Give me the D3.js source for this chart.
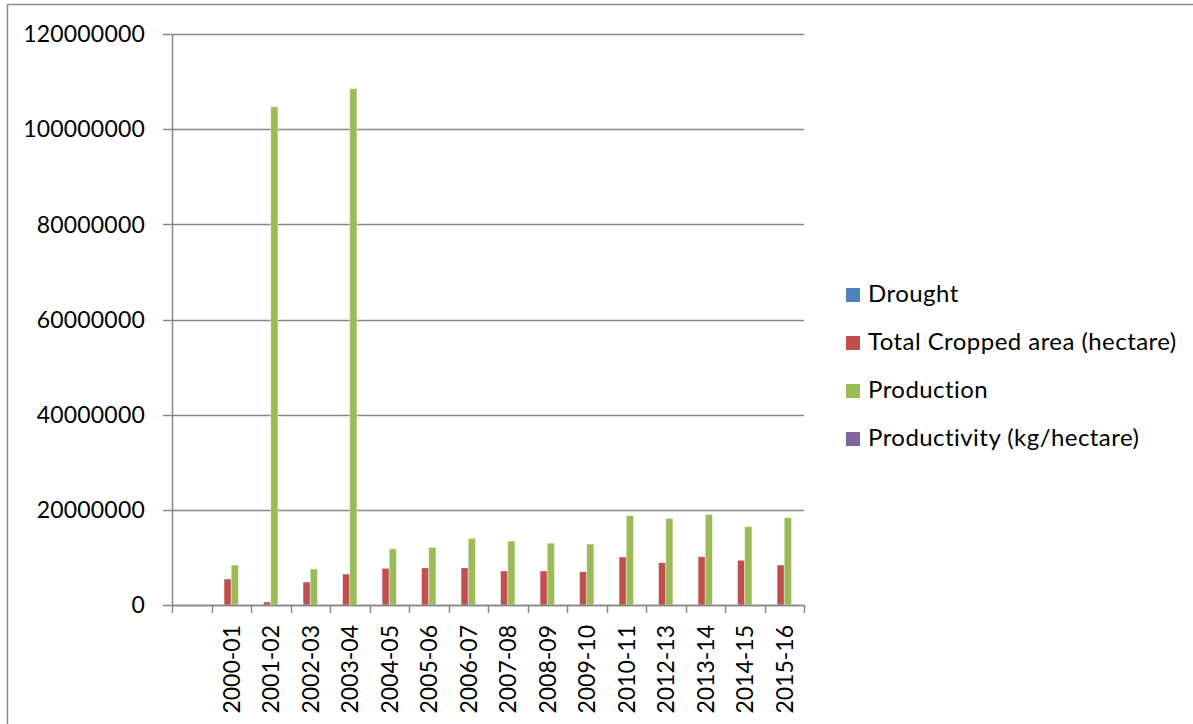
<!DOCTYPE html>
<html>
<head>
<meta charset="utf-8">
<script src="https://cdn.jsdelivr.net/npm/d3@7"></script>
<style>
  body { margin: 0; background: #fff; }
  text { font-family: Lato, 'Liberation Sans', sans-serif; fill: #000; }
</style>
</head>
<body>
<div id="app"></div>
<script>
'use strict'

// first slot is an empty row in the source sheet
const years = ['', '2000-01', '2001-02', '2002-03', '2003-04', '2004-05', '2005-06', '2006-07',
	'2007-08', '2008-09', '2009-10', '2010-11', '2012-13', '2013-14', '2014-15', '2015-16']
const seriesNames = ['Drought', 'Total Cropped area (hectare)', 'Production', 'Productivity (kg/hectare)']
const drought = [0, 0, 0, 0, 0, 0, 0, 0, 0, 0, 0, 0, 0, 0, 0, 0]
const croppedArea = [0, 5460000, 630000, 4830000, 6500000, 7700000, 7800000, 7800000,
	7150000, 7150000, 7000000, 10100000, 8900000, 10150000, 9400000, 8400000]
const production = [0, 8400000, 104700000, 7570000, 108500000, 11800000, 12100000, 14000000,
	13450000, 13000000, 12800000, 18800000, 18200000, 19050000, 16500000, 18350000]
const productivity = [0, 0, 0, 0, 0, 0, 0, 0, 0, 0, 0, 0, 0, 0, 0, 0]
const yTicks = [0, 20000000, 40000000, 60000000, 80000000, 100000000, 120000000]
const colors = ['#4F81BD', '#C0504D', '#9BBB59', '#8064A2']

const seriesValues = [drought, croppedArea, production, productivity]

const W = 1193, H = 724
const plot = { left: 172, right: 804, top: 34, bottom: 605 }

const svg = d3.select('#app').append('svg')
	.attr('width', W)
	.attr('height', H)

// outer chart frame
svg.append('rect')
	.attr('x', 7.5).attr('y', 4.5)
	.attr('width', W + 20).attr('height', H + 20)
	.attr('fill', 'none')
	.attr('stroke', '#8c8c8c')
	.attr('stroke-width', 1.5)

const xScale = d3.scaleBand()
	.domain(years)
	.range([plot.left, plot.right])
	.paddingInner(0)
	.paddingOuter(0)

const inner = d3.scaleBand()
	.domain(seriesNames)
	.range([0, xScale.bandwidth()])
	.paddingInner(0)
	.paddingOuter(0.75)

const yScale = d3.scaleLinear()
	.domain([0, 120000000])
	.range([plot.bottom, plot.top])

// gridlines + y ticks
svg.append('g')
	.selectAll('line')
	.data(yTicks)
	.enter().append('line')
	.attr('x1', plot.left - 9)
	.attr('x2', plot.right)
	.attr('y1', d => Math.round(yScale(d)) + 0.5)
	.attr('y2', d => Math.round(yScale(d)) + 0.5)
	.attr('stroke', '#868686')
	.attr('stroke-width', 1.5)

svg.append('g')
	.selectAll('text')
	.data(yTicks)
	.enter().append('text')
	.attr('x', 145)
	.attr('y', d => yScale(d))
	.attr('dy', '0.36em')
	.attr('text-anchor', 'end')
	.style('font-size', '23px')
	.style('letter-spacing', '0.2px')
	.text(d => d3.format('d')(d))

// y axis line
svg.append('line')
	.attr('x1', plot.left + 0.5).attr('x2', plot.left + 0.5)
	.attr('y1', plot.top).attr('y2', plot.bottom)
	.attr('stroke', '#868686')
	.attr('stroke-width', 1.5)

// bars
const groups = svg.append('g')
	.selectAll('g')
	.data(seriesNames)
	.enter().append('g')
	.attr('fill', (d, i) => colors[i])

groups.selectAll('rect')
	.data((s, i) => years.map((y, j) => ({ year: y, series: s, value: seriesValues[i][j] })))
	.enter().append('rect')
	.filter(d => d.value > 0)
	.attr('x', d => xScale(d.year) + inner(d.series))
	.attr('width', inner.bandwidth())
	.attr('y', d => yScale(d.value))
	.attr('height', d => plot.bottom - yScale(d.value))
	.attr('stroke', '#ffffff')
	.attr('stroke-opacity', 0.5)
	.attr('stroke-width', 0.8)

// x axis line and boundary ticks
svg.append('line')
	.attr('x1', plot.left).attr('x2', plot.right)
	.attr('y1', plot.bottom + 0.5).attr('y2', plot.bottom + 0.5)
	.attr('stroke', '#868686')
	.attr('stroke-width', 1.5)

const bounds = years.map(y => xScale(y)).concat([plot.right])
svg.append('g')
	.selectAll('line')
	.data(bounds)
	.enter().append('line')
	.attr('x1', d => Math.round(d) + 0.5)
	.attr('x2', d => Math.round(d) + 0.5)
	.attr('y1', plot.bottom)
	.attr('y2', plot.bottom + 8)
	.attr('stroke', '#868686')
	.attr('stroke-width', 1.5)

svg.append('g')
	.selectAll('text')
	.data(years.filter(y => y !== ''))
	.enter().append('text')
	.attr('transform', d => `translate(${xScale(d) + xScale.bandwidth() / 2}, 625) rotate(-90)`)
	.attr('dy', '0.36em')
	.attr('text-anchor', 'end')
	.style('font-size', '23px')
	.text(d => d)

// legend
const legend = svg.append('g')
	.selectAll('g')
	.data(seriesNames)
	.enter().append('g')
	.attr('transform', (d, i) => `translate(846, ${302 + i * 48})`)

legend.append('rect')
	.attr('x', 0).attr('y', -14)
	.attr('width', 14).attr('height', 14)
	.attr('fill', (d, i) => colors[i])

legend.append('text')
	.attr('x', 22)
	.attr('y', 0)
	.style('font-size', '24px')
	.style('letter-spacing', '0.45px')
	.text(d => d)
</script>
</body>
</html>
